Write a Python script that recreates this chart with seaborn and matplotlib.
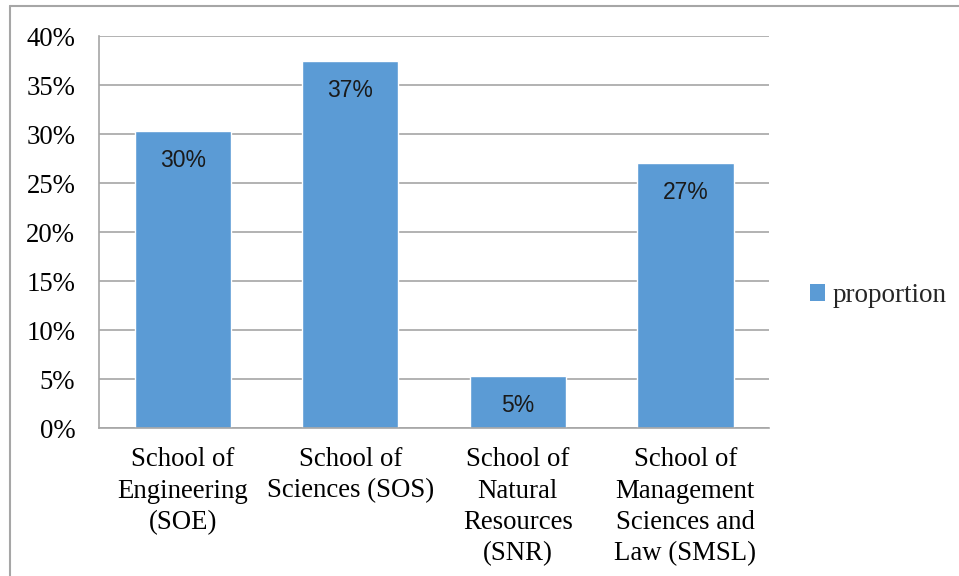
import matplotlib
matplotlib.use("Agg")
import matplotlib.pyplot as plt
import seaborn as sns
import pandas as pd
from matplotlib.lines import Line2D
from matplotlib.patches import Patch

schools = ["School of\nEngineering\n(SOE)", "School of\nSciences (SOS)",
           "School of\nNatural\nResources\n(SNR)", "School of\nManagement\nSciences and\nLaw (SMSL)"]
proportion = [30.3, 37.4, 5.3, 27.0]
labels = ["30%", "37%", "5%", "27%"]

df = pd.DataFrame({"school": schools, "proportion": proportion})

sns.set_theme(style="white")
plt.rcParams["font.family"] = ["Liberation Serif", "DejaVu Sans"]

fig = plt.figure(figsize=(9.59, 5.76), dpi=100)
ax = fig.add_axes([0.1032, 0.2569, 0.6988, 0.6806])

sns.barplot(data=df, x="school", y="proportion", color="#5B9BD5",
            saturation=1, width=0.575, ax=ax)

ax.set_ylim(0, 40)
ax.set_yticks(range(0, 41, 5))
ax.set_yticklabels([f"{v}%" for v in range(0, 41, 5)], fontsize=19.3, color="black")
ax.set_xlabel("")
ax.set_ylabel("")
ax.tick_params(axis="x", labelsize=19.3, labelcolor="black", pad=14, length=0)
ax.tick_params(axis="y", pad=17, length=0)
for t in ax.get_xticklabels():
    t.set_linespacing(1.32)

ax.yaxis.grid(True, color="#A6A6A6", linewidth=1.2)
ax.set_axisbelow(True)
for s in ["top", "right"]:
    ax.spines[s].set_visible(False)
for s in ["left", "bottom"]:
    ax.spines[s].set_color("#A6A6A6")
    ax.spines[s].set_linewidth(1.2)

for i, v in enumerate(proportion):
    ax.annotate(labels[i], (i, v), xytext=(0, -29), textcoords="offset pixels",
                ha="center", va="center", fontsize=16.5, family="Liberation Sans",
                color="#1a1a1a")

handle = Patch(facecolor="#5B9BD5", edgecolor="none")
fig.legend([handle], ["proportion"], loc="center left", bbox_to_anchor=(0.831, 0.487),
           frameon=False, fontsize=19.5, handlelength=0.55, handleheight=0.55,
           handletextpad=0.25, borderpad=0)

# thin frame around the chart
fig.add_artist(Line2D([10 / 959, 10 / 959], [0, 1 - 6 / 576], color="#A6A6A6", lw=1.5))
fig.add_artist(Line2D([10 / 959, 1], [1 - 6 / 576, 1 - 6 / 576], color="#A6A6A6", lw=1.5))

fig.savefig("out.png", dpi=100)
plt.close()
